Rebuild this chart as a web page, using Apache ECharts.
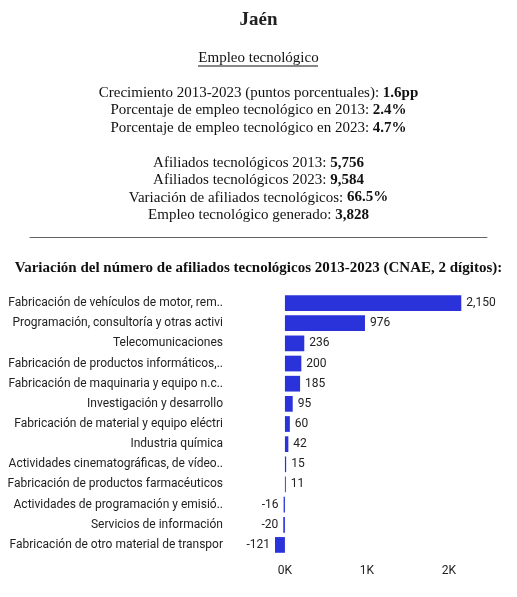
<!DOCTYPE html>
<html><head><meta charset="utf-8">
<script src="https://cdn.jsdelivr.net/npm/echarts@6/dist/echarts.min.js"></script>
<style>html,body{margin:0;padding:0;background:#fff}#c{width:517px;height:597px}</style>
</head><body><div id="c"></div>
<script>
const categories = [
  "Fabricación de vehículos de motor, rem..",
  "Programación, consultoría y otras activi",
  "Telecomunicaciones",
  "Fabricación de productos informáticos,..",
  "Fabricación de maquinaria y equipo n.c..",
  "Investigación y desarrollo",
  "Fabricación de material y equipo eléctri",
  "Industria química",
  "Actividades cinematográficas, de vídeo..",
  "Fabricación de productos farmacéuticos",
  "Actividades de programación y emisió..",
  "Servicios de información",
  "Fabricación de otro material de transpor"
];
const values = [2150, 976, 236, 200, 185, 95, 60, 42, 15, 11, -16, -20, -121];
const tickValues = [0, 1000, 2000];
const headerTitle = "Jaén";
const headerSub = "Empleo tecnológico";
const statLines1 = [
  ["Crecimiento 2013-2023 (puntos porcentuales): ", "1.6pp"],
  ["Porcentaje de empleo tecnológico en 2013: ", "2.4%"],
  ["Porcentaje de empleo tecnológico en 2023: ", "4.7%"]
];
const statLines2 = [
  ["Afiliados tecnológicos 2013: ", "5,756"],
  ["Afiliados tecnológicos 2023: ", "9,584"],
  ["Variación de afiliados tecnológicos: ", "66.5%"],
  ["Empleo tecnológico generado: ", "3,828"]
];
const chartTitle = "Variación del número de afiliados tecnológicos 2013-2023 (CNAE, 2 dígitos):";

const serif = '"Liberation Serif", "DejaVu Serif", serif';
const sans = 'Roboto, "Liberation Sans", sans-serif';
const cx = 258.5;

const graphics = [];
graphics.push({type:'text', x:cx, y:20, style:{text:headerTitle, font:'bold 19px '+serif, fill:'#222', align:'center', verticalAlign:'middle'}});
graphics.push({type:'text', x:cx, y:58, style:{text:headerSub, font:'15px '+serif, fill:'#111', align:'center', verticalAlign:'middle'}});
graphics.push({type:'line', shape:{x1:198, y1:66, x2:318, y2:66}, style:{stroke:'#111', lineWidth:1}});
function statText(lines, y0, step) {
  lines.forEach((l, i) => {
    graphics.push({type:'text', x:cx, y:y0 + i*step, style:{
      text:'{n|' + l[0] + '}{b|' + l[1] + '}', align:'center', verticalAlign:'middle',
      rich:{n:{font:'15px '+serif, fill:'#111'}, b:{font:'bold 15px '+serif, fill:'#111'}}
    }});
  });
}
statText(statLines1, 93, 17.5);
statText(statLines2, 163, 17.3);
graphics.push({type:'text', x:cx, y:232, style:{text:'_'.repeat(61), font:'15px '+serif, fill:'#333', align:'center', verticalAlign:'middle'}});
graphics.push({type:'text', x:cx, y:268, style:{text:chartTitle, font:'bold 15px '+serif, fill:'#111', align:'center', verticalAlign:'middle'}});

const chart = echarts.init(document.getElementById('c'), null, {renderer:'canvas'});
chart.setOption({
  animation:false,
  graphic: graphics,
  grid:{left:275, right:27, top:293, bottom:42, containLabel:false},
  xAxis:{type:'value', min:-121, max:2500,
    axisLine:{show:false}, axisTick:{show:false}, splitLine:{show:false},
    axisLabel:{customValues:tickValues, formatter:v => (v/1000) + 'K', fontFamily:sans, fontSize:12, color:'#222', margin:10}
  },
  yAxis:{type:'category', data:categories, inverse:true,
    axisLine:{show:false}, axisTick:{show:false},
    axisLabel:{fontFamily:sans, fontSize:12, color:'#222', margin:52}
  },
  series:[{type:'bar', data:values.map(v => ({value:v, label:{position: v < 0 ? 'left' : 'right'}})),
    barCategoryGap:'22%', itemStyle:{color:'#2a33d9'},
    label:{show:true, fontFamily:sans, fontSize:12, color:'#222', distance:5,
      formatter:p => p.value.toLocaleString('en-US')}
  }]
});
</script></body></html>
